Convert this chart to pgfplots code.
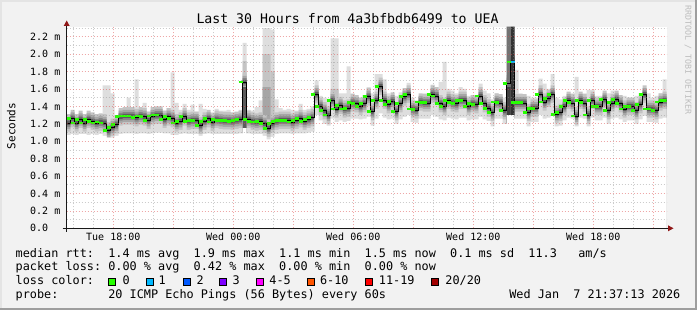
\documentclass[border=0pt]{standalone}
\usepackage{pgfplots}
\pgfplotsset{compat=1.18}
\usepackage{pgfplotstable}
\usepackage{fontspec}
\setmainfont{DejaVu Sans Mono}
\definecolor{bgc}{HTML}{F2F2F2}
\definecolor{shadeA}{HTML}{E4E4E4}
\definecolor{shadeB}{HTML}{9E9E9E}
\definecolor{gridc}{HTML}{8F8F8F}
\definecolor{mgridc}{HTML}{DE5050}
\definecolor{arrowc}{HTML}{901818}
\definecolor{rrdc}{HTML}{BDBDBD}
\definecolor{s1}{HTML}{DEDEDE}
\definecolor{s2}{HTML}{C4C4C4}
\definecolor{s3}{HTML}{A6A6A6}
\definecolor{s4}{HTML}{858585}
\definecolor{s5}{HTML}{5C5C5C}
\definecolor{c0}{HTML}{26FF00}
\definecolor{c1}{HTML}{00B8FF}
\definecolor{c2}{HTML}{0059FF}
\definecolor{c3}{HTML}{7E00FF}
\definecolor{c4}{HTML}{FF00FF}
\definecolor{c6}{HTML}{FF5500}
\definecolor{c11}{HTML}{FF0000}
\definecolor{c20}{HTML}{A10000}

\pgfplotstableread{
i med lo hi
0 1.21 1.07 1.30
1 1.26 1.08 1.32
2 1.21 1.07 1.31
3 1.25 1.08 1.31
4 1.21 1.08 1.30
5 1.25 1.07 1.32
6 1.23 1.08 1.31
7 1.21 1.07 1.31
8 1.22 1.08 1.30
9 1.21 1.06 1.64
10 1.12 1.04 1.64
11 1.16 1.04 1.55
12 1.19 1.06 1.30
13 1.28 1.08 1.32
14 1.29 1.09 1.34
15 1.29 1.09 1.50
16 1.29 1.09 1.33
17 1.27 1.08 1.71
18 1.29 1.09 1.35
19 1.28 1.09 1.44
20 1.24 1.08 1.34
21 1.29 1.09 1.36
22 1.30 1.10 1.36
23 1.30 1.10 1.36
24 1.25 1.09 1.35
25 1.28 1.09 1.38
26 1.26 1.07 1.79
27 1.21 1.07 1.44
28 1.23 1.08 1.36
29 1.28 1.09 1.43
30 1.23 1.08 1.36
31 1.24 1.08 1.42
32 1.24 1.08 1.34
33 1.18 1.06 1.43
34 1.23 1.08 1.37
35 1.26 1.09 1.33
36 1.22 1.08 1.33
37 1.25 1.08 1.37
38 1.24 1.08 1.35
39 1.235 1.08 1.35
40 1.235 1.08 1.36
41 1.23 1.08 1.32
42 1.24 1.08 1.33
43 1.25 1.09 1.36
44 1.68 1.15 2.13
45 1.25 1.09 1.36
46 1.23 1.08 1.35
47 1.22 1.08 1.39
48 1.23 1.08 1.47
49 1.20 1.06 2.30
50 1.15 1.02 2.30
51 1.20 1.05 2.28
52 1.23 1.08 1.48
53 1.24 1.09 1.38
54 1.24 1.09 1.36
55 1.24 1.09 1.37
56 1.22 1.08 1.36
57 1.24 1.09 1.35
58 1.26 1.09 1.43
59 1.23 1.09 1.36
60 1.25 1.10 1.37
61 1.27 1.11 1.40
62 1.54 1.30 1.70
63 1.40 1.24 1.52
64 1.35 1.20 1.50
65 1.30 1.18 1.49
66 1.47 1.26 2.18
67 1.37 1.22 2.18
68 1.41 1.24 1.55
69 1.37 1.22 1.55
70 1.38 1.23 1.86
71 1.44 1.26 1.55
72 1.43 1.26 1.52
73 1.40 1.25 1.50
74 1.43 1.26 1.50
75 1.51 1.28 1.62
76 1.34 1.18 1.55
77 1.47 1.26 1.77
78 1.63 1.32 1.77
79 1.47 1.27 1.71
80 1.42 1.25 1.55
81 1.46 1.26 1.52
82 1.34 1.20 1.52
83 1.43 1.25 1.56
84 1.51 1.28 1.59
85 1.54 1.30 1.67
86 1.37 1.22 1.50
87 1.36 1.21 1.47
88 1.45 1.26 1.52
89 1.44 1.26 1.55
90 1.44 1.26 1.55
91 1.54 1.30 1.65
92 1.52 1.28 1.60
93 1.43 1.25 1.68
94 1.40 1.24 1.91
95 1.47 1.27 1.60
96 1.44 1.26 1.58
97 1.43 1.25 1.55
98 1.47 1.27 1.62
99 1.47 1.27 1.60
100 1.40 1.24 1.52
101 1.43 1.25 1.52
102 1.42 1.25 1.50
103 1.52 1.28 1.66
104 1.43 1.25 1.58
105 1.38 1.23 1.55
106 1.33 1.17 1.48
107 1.45 1.26 1.55
108 1.44 1.26 1.52
109 1.35 1.20 1.50
110 1.66 1.30 2.315
111 1.91 1.30 2.315
112 1.44 1.26 1.82
113 1.44 1.26 1.55
114 1.44 1.26 1.52
115 1.33 1.17 1.52
116 1.38 1.22 1.50
117 1.38 1.22 1.50
118 1.54 1.30 1.72
119 1.45 1.26 1.66
120 1.49 1.27 1.60
121 1.54 1.30 1.77
122 1.31 1.17 1.50
123 1.33 1.18 1.48
124 1.40 1.24 1.52
125 1.47 1.27 1.56
126 1.44 1.26 1.55
127 1.29 1.17 1.74
128 1.47 1.27 1.55
129 1.44 1.26 1.55
130 1.30 1.17 1.59
131 1.47 1.27 1.59
132 1.40 1.24 1.52
133 1.40 1.24 1.52
134 1.48 1.27 1.56
135 1.35 1.20 1.55
136 1.44 1.26 1.58
137 1.48 1.27 1.55
138 1.43 1.25 1.52
139 1.37 1.22 1.52
140 1.40 1.24 1.50
141 1.40 1.24 1.50
142 1.35 1.20 1.52
143 1.42 1.25 1.55
144 1.54 1.29 1.61
145 1.37 1.22 1.55
146 1.37 1.22 1.50
147 1.35 1.21 1.52
148 1.45 1.26 1.55
149 1.47 1.27 1.71
150 1.47 1.27 1.71
}\smoke

\begin{document}
\begin{tikzpicture}[x=1pt,y=1pt]
\fill[bgc] (0,0) rectangle (697,310);
\fill[shadeA] (0,308) rectangle (697,310);
\fill[shadeA] (0,0) rectangle (2,310);
\fill[shadeB] (0,0) rectangle (697,2);
\fill[shadeB] (695,0) rectangle (697,310);

\begin{axis}[
  at={(66.7pt,81.7pt)}, anchor=south west,
  scale only axis, width=600pt, height=201.6pt,
  xmin=0, xmax=150, ymin=0, ymax=2.315,
  axis background/.style={fill=white},
  axis line style={draw=none},
  axis on top,
  xtick={11.65,26.65,41.65,56.65,71.65,86.65,101.65,116.65,131.65,146.65},
  xticklabels={Tue 18:00,,Wed 00:00,,Wed 06:00,,Wed 12:00,,Wed 18:00,},
  minor xtick={1.65,6.65,16.65,21.65,31.65,36.65,46.65,51.65,61.65,66.65,76.65,81.65,91.65,96.65,106.65,111.65,121.65,126.65,136.65,141.65},
  ytick={0,0.2,0.4,0.6,0.8,1.0,1.2,1.4,1.6,1.8,2.0,2.2},
  yticklabels={0.0\phantom{\ m},0.2 m,0.4 m,0.6 m,0.8 m,1.0 m,1.2 m,1.4 m,1.6 m,1.8 m,2.0 m,2.2 m},
  minor ytick={0.1,0.3,0.5,0.7,0.9,1.1,1.3,1.5,1.7,1.9,2.1,2.3},
  grid=both,
  major grid style={draw=mgridc, draw opacity=0.5, dash pattern=on 1pt off 2pt, line width=0.7pt},
  minor grid style={draw=gridc, draw opacity=0.45, dash pattern=on 1pt off 2pt, line width=0.7pt},
  major tick length=0pt, minor tick length=0pt,
  tick label style={font=\fontsize{10}{12}\selectfont, inner sep=0pt},
  yticklabel style={anchor=east, xshift=-6.2pt},
  xticklabel style={anchor=base, yshift=-12.4pt},
]
% outer smoke
\addplot[const plot, fill=s1, draw=none] table[x=i,y=hi]{\smoke} \closedcycle;
% spike columns (upper parts)
\addplot[const plot, fill=s2, draw=none] coordinates {(44,1.92) (45,1.92)} \closedcycle;
\addplot[const plot, fill=s2, draw=none] coordinates {(49,2.0) (51,2.0)} \closedcycle;
\addplot[const plot, fill=s2, draw=none] coordinates {(51,1.80) (52,1.80)} \closedcycle;
\addplot[const plot, fill=s3, draw=none] coordinates {(49,1.62) (51,1.62)} \closedcycle;
\addplot[const plot, fill=s2, draw=none] coordinates {(66,1.60) (68,1.60)} \closedcycle;
% bands around the median
\addplot[const plot, fill=s2, draw=none] table[x=i,y expr=\thisrow{med}+0.10]{\smoke} \closedcycle;
\addplot[const plot, fill=s3, draw=none] table[x=i,y expr=\thisrow{med}+0.07]{\smoke} \closedcycle;
\addplot[const plot, fill=s4, draw=none] table[x=i,y expr=\thisrow{med}+0.045]{\smoke} \closedcycle;
\addplot[const plot, fill=s5, draw=none] table[x=i,y expr=\thisrow{med}+0.025]{\smoke} \closedcycle;
\addplot[const plot, fill=s4, draw=none] table[x=i,y expr=\thisrow{med}-0.025]{\smoke} \closedcycle;
\addplot[const plot, fill=s3, draw=none] table[x=i,y expr=\thisrow{med}-0.045]{\smoke} \closedcycle;
\addplot[const plot, fill=s2, draw=none] table[x=i,y expr=\thisrow{med}-0.07]{\smoke} \closedcycle;
\addplot[const plot, fill=s1, draw=none] table[x=i,y expr=\thisrow{med}-0.10]{\smoke} \closedcycle;
% spike columns (dark parts)
\addplot[const plot, fill=s5, draw=none] coordinates {(44,1.62) (45,1.62)} \closedcycle;
\addplot[const plot, fill=black!55, draw=none] coordinates {(110,2.315) (111,2.315)} \closedcycle;
\addplot[const plot, fill=black!75, draw=none] coordinates {(110,1.62) (111,1.62)} \closedcycle;
\addplot[const plot, fill=black!80, draw=none] coordinates {(111,2.315) (112,2.315)} \closedcycle;
% below the minimum
\addplot[const plot, fill=white, draw=none] table[x=i,y=lo]{\smoke} \closedcycle;
% median
\addplot[const plot, black, line width=0.7pt] table[x=i,y=med]{\smoke};
\addplot[jump mark right, draw=c0, line width=2.8pt] table[x=i,y=med]{\smoke};
\addplot[jump mark right, draw=c1, line width=2.8pt] coordinates {(111,1.91) (112,1.91)};
\end{axis}

% axes with arrows
\draw[black!90, line width=1pt] (62.5,81.7) -- (669,81.7);
\fill[arrowc] (668,78.7) -- (673.5,81.7) -- (668,84.7) -- cycle;
\draw[black!90, line width=1pt] (66.7,78) -- (66.7,285);
\fill[arrowc] (63.7,284) -- (66.7,289.5) -- (69.7,284) -- cycle;

% titles
\node[anchor=base, inner sep=0pt, font=\fontsize{13.2}{15}\selectfont] at (347.5,286) {Last 30 Hours from 4a3bfbdb6499 to UEA};
\node[rotate=90, anchor=base, inner sep=0pt, font=\fontsize{11}{13}\selectfont] at (15.3,184) {Seconds};
\node[rotate=-90, anchor=base, inner sep=0pt, text=rrdc, font=\fontsize{8.3}{10}\selectfont] at (685.3,250) {RRDTOOL / TOBI OETIKER};

% legend
\begin{scope}[every node/.style={anchor=base west, inner sep=0pt, font=\fontsize{11.83}{14}\selectfont}]
\node at (15.5,52.7) {median~rtt:~~1.4~ms~avg~~1.9~ms~max~~1.1~ms~min~~1.5~ms~now~~0.1~ms~sd~~11.3~~~am/s};
\node at (15.5,39) {packet~loss:~0.00~\%~avg~~0.42~\%~max~~0.00~\%~min~~0.00~\%~now};
\node at (15.5,25) {loss~color:};
\node at (15.5,11) {probe:~~~~~~~20~ICMP~Echo~Pings~(56~Bytes)~every~60s};
\node[anchor=base east] at (680.5,11) {Wed~Jan~~7~21:37:13~2026};
\node at (122.5,25) {0};
\node at (158.3,25) {1};
\node at (196.5,25) {2};
\node at (232.5,25) {3};
\node at (269.2,25) {4-5};
\node at (319.9,25) {6-10};
\node at (378.7,25) {11-19};
\node at (445.2,25) {20/20};
\end{scope}
\foreach \bx/\bc in {108.3/c0,145.7/c1,182.7/c2,219.3/c3,256/c4,307.3/c6,365/c11,430.7/c20}{
  \filldraw[fill=\bc, draw=black, line width=1pt] (\bx+0.5,24.8) rectangle (\bx+7.5,31.3);
}
\end{tikzpicture}
\end{document}
